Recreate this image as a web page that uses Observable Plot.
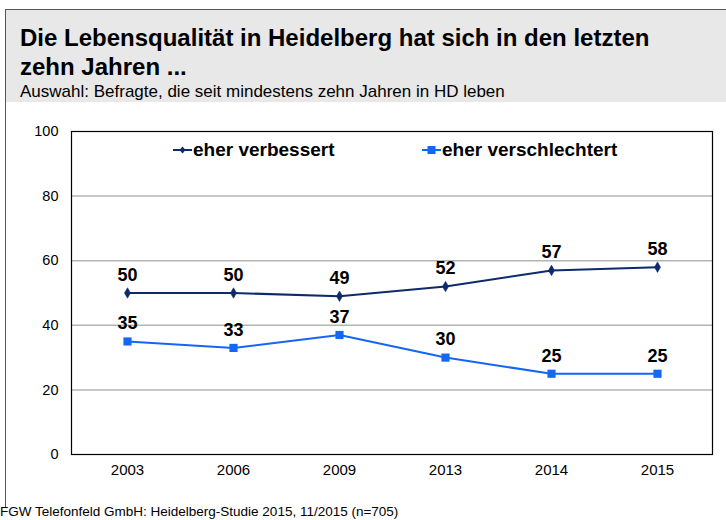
<!DOCTYPE html>
<html>
<head>
<meta charset="utf-8">
<script src="https://cdn.jsdelivr.net/npm/d3@7"></script>
<script src="https://cdn.jsdelivr.net/npm/@observablehq/plot@0.6"></script>
<style>
  body { margin:0; width:726px; height:520px; position:relative; overflow:hidden; background:#fff;
         font-family:"Liberation Sans", Arial, Helvetica, sans-serif; }
  #outline { position:absolute; left:5px; top:9px; width:721px; height:498px;
             border-left:1px solid #555; border-top:1px solid #555; }
  #header { position:absolute; left:6px; top:10px; width:720px; height:92px; background:#e8e8e8; }
  #title { position:absolute; left:14px; top:13px; font-size:24px; font-weight:bold; line-height:29px;
           white-space:nowrap; color:#000; }
  #subtitle { position:absolute; left:14px; top:73px; font-size:17px; line-height:17px; white-space:nowrap; color:#000; }
  #chart { position:absolute; left:0; top:110px; }
  #legend { position:absolute; top:140px; left:0; font-size:19px; font-weight:bold; line-height:20px; }
  .item { position:absolute; white-space:nowrap; display:flex; align-items:center; }
  .item svg { margin-right:1px; }
  #footer { position:absolute; left:0; top:505px; font-size:13.5px; line-height:14px; white-space:nowrap; color:#000; }
</style>
</head>
<body>
<div id="outline"></div>
<div id="header">
  <div id="title">Die Lebensqualität in Heidelberg hat sich in den letzten<br>zehn Jahren ...</div>
  <div id="subtitle">Auswahl: Befragte, die seit mindestens zehn Jahren in HD leben</div>
</div>
<div id="chart"></div>
<div id="legend"></div>
<div id="footer">FGW Telefonfeld GmbH: Heidelberg-Studie 2015, 11/2015 (n=705)</div>
<script>
const years = ["2003", "2006", "2009", "2013", "2014", "2015"];
const verbessert = [50, 50, 49, 52, 57, 58];
const verschlechtert = [35, 33, 37, 30, 25, 25];
const seriesNames = ["eher verbessert", "eher verschlechtert"];
const yTicks = [0, 20, 40, 60, 80, 100];
const gridTicks = [20, 40, 60, 80];

const colDark = "#0c2a6c";
const colLight = "#1466f5";

const rowsA = years.map((y, i) => ({year: y, value: verbessert[i]}));
const rowsB = years.map((y, i) => ({year: y, value: verschlechtert[i]}));

const chart = Plot.plot({
  width: 726,
  height: 385,
  marginTop: 21,
  marginBottom: 41,
  marginLeft: 71,
  marginRight: 14,
  style: {fontFamily: "'Liberation Sans', Arial, sans-serif", fontSize: "14px", color: "#000", background: "transparent"},
  x: {type: "point", domain: years, padding: 0.5, label: null},
  y: {domain: [0, 100], label: null},
  marks: [
    Plot.ruleY(gridTicks, {stroke: "#b4b4b4", strokeWidth: 1.5}),
    Plot.frame({stroke: "#000", strokeWidth: 1.2}),
    Plot.axisY({ticks: yTicks, tickSize: 0, tickPadding: 13, fontSize: 14.5, label: null}),
    Plot.axisX({tickSize: 0, tickPadding: 10, fontSize: 15, label: null}),
    Plot.line(rowsA, {x: "year", y: "value", stroke: colDark, strokeWidth: 2}),
    Plot.dot(rowsA, {x: "year", y: "value", symbol: "diamond", r: 3.2, fill: colDark, stroke: colDark, strokeWidth: 0.5}),
    Plot.line(rowsB, {x: "year", y: "value", stroke: colLight, strokeWidth: 2}),
    Plot.dot(rowsB, {x: "year", y: "value", symbol: "square", r: 4.6, fill: colLight}),
    Plot.text(rowsA, {x: "year", y: "value", text: d => String(d.value), dy: -18, fontSize: 18, fontWeight: "bold", fill: "#000"}),
    Plot.text(rowsB, {x: "year", y: "value", text: d => String(d.value), dy: -18, fontSize: 18, fontWeight: "bold", fill: "#000"})
  ]
});
document.getElementById("chart").appendChild(chart);

// legend
const legend = document.getElementById("legend");
const legendSpec = [
  {name: seriesNames[0], color: colDark, marker: "diamond", left: 173},
  {name: seriesNames[1], color: colLight, marker: "square", left: 422}
];
legendSpec.forEach(s => {
  const div = document.createElement("div");
  div.className = "item";
  div.style.left = s.left + "px";
  const markerSvg = s.marker === "square"
    ? `<rect x="5.5" y="6" width="8" height="8" fill="${s.color}"/>`
    : `<path d="M9.5 6.5 L12.5 10 L9.5 13.5 L6.5 10 Z" fill="${s.color}"/>`;
  div.innerHTML = `<svg width="19" height="20"><line x1="0" x2="19" y1="10" y2="10" stroke="${s.color}" stroke-width="2"/>${markerSvg}</svg><span>${s.name}</span>`;
  legend.appendChild(div);
});
</script>
</body>
</html>
